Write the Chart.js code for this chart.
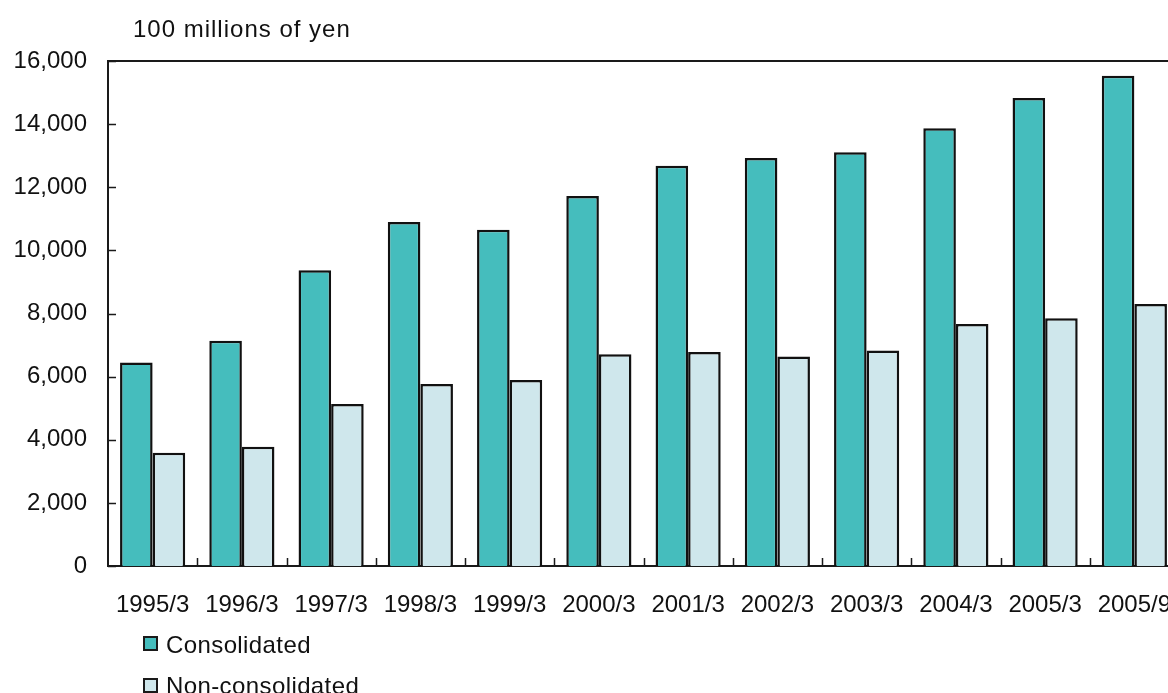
<!DOCTYPE html>
<html>
<head>
<meta charset="utf-8">
<script src="https://cdn.jsdelivr.net/npm/chart.js@4"></script>
<style>
  html, body { margin: 0; padding: 0; background: #fff; overflow: hidden; }
  body { width: 1168px; height: 693px; position: relative; font-family: "Liberation Sans", Arial, sans-serif; color: #111; }
  #wrap { position: absolute; left: -1px; top: 0; width: 1200px; height: 693px; }
  .t { position: absolute; font-size: 24px; line-height: 24px; white-space: nowrap; }
  .box { position: absolute; width: 15px; height: 15px; box-sizing: border-box; border: 2px solid #1a1a1a; }
</style>
</head>
<body>
<div id="wrap"><canvas id="c" width="1200" height="693"></canvas></div>
<div class="t" style="left:133px; top:17px; letter-spacing:1px;">100 millions of yen</div>
<div class="box" style="left:143px; top:636px; background:#45BDBD;"></div>
<div class="t" style="left:166px; top:633px; letter-spacing:0.4px;">Consolidated</div>
<div class="box" style="left:143px; top:678px; background:#CFE7EC;"></div>
<div class="t" style="left:166px; top:674px; letter-spacing:0.4px;">Non-consolidated</div>
<script>
const categories = ["1995/3","1996/3","1997/3","1998/3","1999/3","2000/3","2001/3","2002/3","2003/3","2004/3","2005/3","2005/9"];
const consolidated = [6450, 7140, 9370, 10900, 10650, 11720, 12680, 12930, 13110, 13870, 14830, 15530];
const nonConsolidated = [3590, 3780, 5130, 5770, 5890, 6710, 6780, 6640, 6830, 7670, 7850, 8300];
const yTicks = [0, 2000, 4000, 6000, 8000, 10000, 12000, 14000, 16000];

const FONT = { family: "'Liberation Sans', Arial, sans-serif", size: 24 };

const frame = {
  id: 'frame',
  afterDraw(chart) {
    const { ctx, chartArea: a, scales: { x, y } } = chart;
    ctx.save();
    ctx.strokeStyle = '#1a1a1a';
    ctx.lineWidth = 2;
    ctx.beginPath();
    ctx.moveTo(a.left, a.top); ctx.lineTo(a.right, a.top);
    ctx.stroke();
    ctx.lineWidth = 1.5;
    ctx.beginPath();
    yTicks.forEach(v => {
      const py = Math.round(y.getPixelForValue(v)) + 0.5;
      ctx.moveTo(a.left, py); ctx.lineTo(a.left + 8, py);
    });
    const half = (x.getPixelForValue(1) - x.getPixelForValue(0)) / 2;
    for (let i = 0; i < categories.length; i++) {
      const px = Math.round(x.getPixelForValue(i) + half) + 0.5;
      ctx.moveTo(px, a.bottom); ctx.lineTo(px, a.bottom - 8);
    }
    ctx.stroke();
    ctx.restore();
  }
};

new Chart(document.getElementById('c'), {
  type: 'bar',
  data: {
    labels: categories,
    datasets: [
      { label: 'Consolidated', data: consolidated, backgroundColor: '#45BDBD', borderColor: '#111', borderWidth: 2.5 },
      { label: 'Non-consolidated', data: nonConsolidated, backgroundColor: '#CFE7EC', borderColor: '#111', borderWidth: 2.5 }
    ]
  },
  options: {
    responsive: false,
    animation: false,
    events: [],
    layout: { padding: { top: 61, right: 20, bottom: 67, left: 0 } },
    plugins: { legend: { display: false }, tooltip: { enabled: false }, title: { display: false } },
    datasets: { bar: { categoryPercentage: 0.73, barPercentage: 1.0 } },
    scales: {
      x: {
        grid: { display: false, drawTicks: false },
        border: { display: true, color: '#1a1a1a', width: 2 },
        ticks: { color: '#111', font: FONT, padding: 25, maxRotation: 0, autoSkip: false },
        afterFit(s) { s.height = 60; }
      },
      y: {
        min: 0, max: 16000,
        afterBuildTicks(s) { s.ticks = yTicks.map(v => ({ value: v })); },
        grid: { display: false, drawTicks: false },
        border: { display: true, color: '#1a1a1a', width: 2 },
        ticks: { color: '#111', font: FONT, padding: 21, callback: v => v.toLocaleString('en-US') },
        afterFit(s) { s.width = 109; }
      }
    }
  },
  plugins: [frame]
});
</script>
</body>
</html>
